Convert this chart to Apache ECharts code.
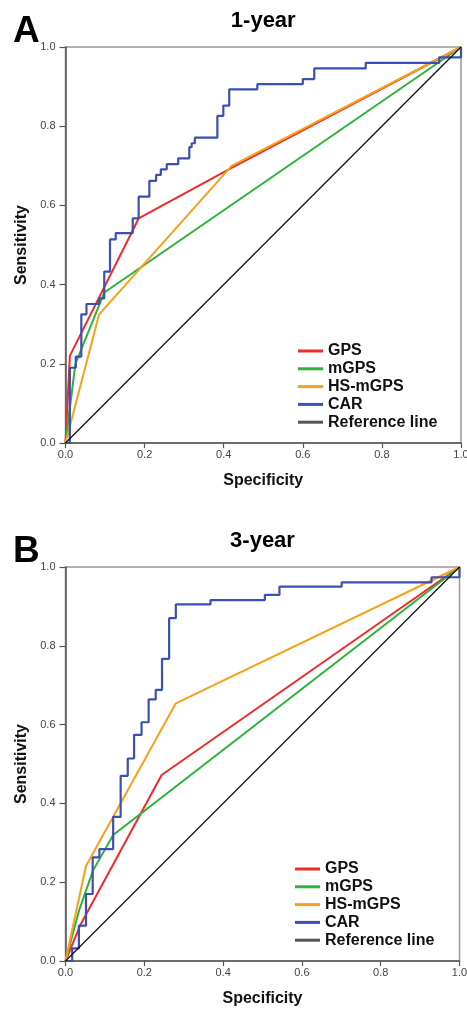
<!DOCTYPE html>
<html><head><meta charset="utf-8">
<script src="https://cdn.jsdelivr.net/npm/echarts@6/dist/echarts.min.js"></script>
<style>html,body{margin:0;padding:0;background:#fff;overflow:hidden}#c{width:467px;height:1010px}</style>
</head><body><div id="c"></div>
<script>
// ---- data (x = 1-specificity axis "Specificity", y = Sensitivity) ----
const panelLetters = ['A', 'B'];
const panelTitles = ['1-year', '3-year'];
const seriesNames = ['GPS', 'mGPS', 'HS-mGPS', 'CAR', 'Reference line'];
const tickValues = [0, 0.2, 0.4, 0.6, 0.8, 1.0];

const gps1 = [[0,0],[0.011,0.22],[0.185,0.567],[0.42,0.695],[1,1]];
const mgps1 = [[0,0],[0.025,0.2],[0.098,0.38],[1,1]];
const hsmgps1 = [[0,0],[0.085,0.325],[0.42,0.70],[1,1]];
const car1 = [[0,0],[0.011,0.19],[0.026,0.218],[0.04,0.325],[0.053,0.351],[0.085,0.365],
  [0.098,0.433],[0.1125,0.514],[0.127,0.53],[0.17,0.567],[0.185,0.622],[0.212,0.662],
  [0.229,0.677],[0.241,0.691],[0.256,0.704],[0.285,0.719],[0.313,0.747],[0.319,0.757],
  [0.327,0.771],[0.384,0.826],[0.399,0.852],[0.414,0.893],[0.485,0.906],[0.6,0.919],
  [0.629,0.946],[0.759,0.96],[0.945,0.974],[1,1]];

const gps3 = [[0,0],[0.037,0.09],[0.244,0.472],[1,1]];
const mgps3 = [[0,0],[0.035,0.13],[0.07,0.23],[0.121,0.32],[1,1]];
const hsmgps3 = [[0,0],[0.052,0.241],[0.28,0.654],[1,1]];
const car3 = [[0,0],[0.017,0.032],[0.034,0.09],[0.052,0.17],[0.069,0.263],[0.086,0.284],
  [0.121,0.366],[0.14,0.47],[0.158,0.514],[0.174,0.574],[0.193,0.606],[0.211,0.664],
  [0.229,0.688],[0.245,0.767],[0.263,0.87],[0.28,0.905],[0.368,0.916],[0.506,0.929],
  [0.543,0.95],[0.701,0.961],[0.929,0.974],[1,1]];

const refLine = [[0,0],[1,1]];

// ---- styling / layout ----
const colors = ['#ee2b2b', '#2db23b', '#f7a11a', '#3b50b2', '#111111'];
const FONT = 'Liberation Sans, Arial, sans-serif';
const grids = [
  {left: 65.5, top: 47, width: 395.5, height: 396},
  {left: 65.5, top: 567, width: 394, height: 394}
];
const panelData = [
  [gps1, mgps1, hsmgps1, car1, refLine],
  [gps3, mgps3, hsmgps3, car3, refLine]
];

const chart = echarts.init(document.getElementById('c'), null, {renderer: 'canvas'});

const xAxes = [], yAxes = [], series = [], graphics = [], legends = [];
grids.forEach((g, i) => {
  const common = {
    min: 0, max: 1, interval: 0.2,
    axisLine: {show: true, onZero: false, lineStyle: {color: '#555', width: 1.5}},
    splitLine: {show: false},
    nameTextStyle: {fontFamily: FONT, fontWeight: 'bold', fontSize: 16, color: '#111'},
  };
  xAxes.push(Object.assign({}, common, {
    type: 'value', gridIndex: i, name: 'Specificity', nameLocation: 'middle', nameGap: 30,
    axisTick: {show: true, length: 5, lineStyle: {color: '#555', width: 1.2}},
    axisLabel: {fontFamily: FONT, fontSize: 11, color: '#444', margin: 6,
      formatter: v => v.toFixed(1)}
  }));
  yAxes.push(Object.assign({}, common, {
    type: 'value', gridIndex: i, name: 'Sensitivity', nameLocation: 'middle', nameGap: 35,
    nameRotate: 90,
    axisTick: {show: true, length: 6, lineStyle: {color: '#555', width: 1.2}},
    axisLabel: {fontFamily: FONT, fontSize: 11, color: '#444', margin: 10,
      formatter: v => v.toFixed(1)}
  }));
  panelData[i].forEach((d, k) => {
    series.push({
      type: 'line', name: seriesNames[k], xAxisIndex: i, yAxisIndex: i,
      data: d, symbol: 'none', showSymbol: false, animation: false,
      step: k === 3 ? 'end' : false,
      color: colors[k],
      lineStyle: {color: colors[k], width: k === 4 ? 1.3 : (k === 3 ? 2.2 : 2)},
      z: 2 + k
    });
  });
  const dy = g.top - 47;
  graphics.push({type: 'text', left: 13, top: 13 + dy,
    style: {text: panelLetters[i], font: 'bold 37px ' + FONT, fill: '#000'}});
  graphics.push({type: 'text', x: g.left + g.width / 2, y: 21 + dy,
    style: {text: panelTitles[i], font: 'bold 22px ' + FONT, fill: '#000',
      textAlign: 'center', textVerticalAlign: 'middle'}});
  legends.push({
    orient: 'vertical', left: i === 0 ? 298 : 295, top: i === 0 ? 343 : 861,
    padding: 0,
    itemWidth: 25, itemHeight: 3, itemGap: 1.8, icon: 'rect',
    data: seriesNames.map((n, k) => ({name: n, itemStyle: {color: k === 4 ? '#555' : colors[k]}})),
    textStyle: {fontFamily: FONT, fontWeight: 'bold', fontSize: 16, color: '#111', lineHeight: 16},
    selectedMode: false
  });
});

chart.setOption({
  animation: false,
  backgroundColor: '#fff',
  grid: grids.map(g => Object.assign({show: true, borderColor: '#999', borderWidth: 1.5,
    backgroundColor: 'transparent', containLabel: false, outerBoundsMode: 'none'}, g)),
  xAxis: xAxes, yAxis: yAxes, series: series, legend: legends, graphic: graphics
});
</script></body></html>
